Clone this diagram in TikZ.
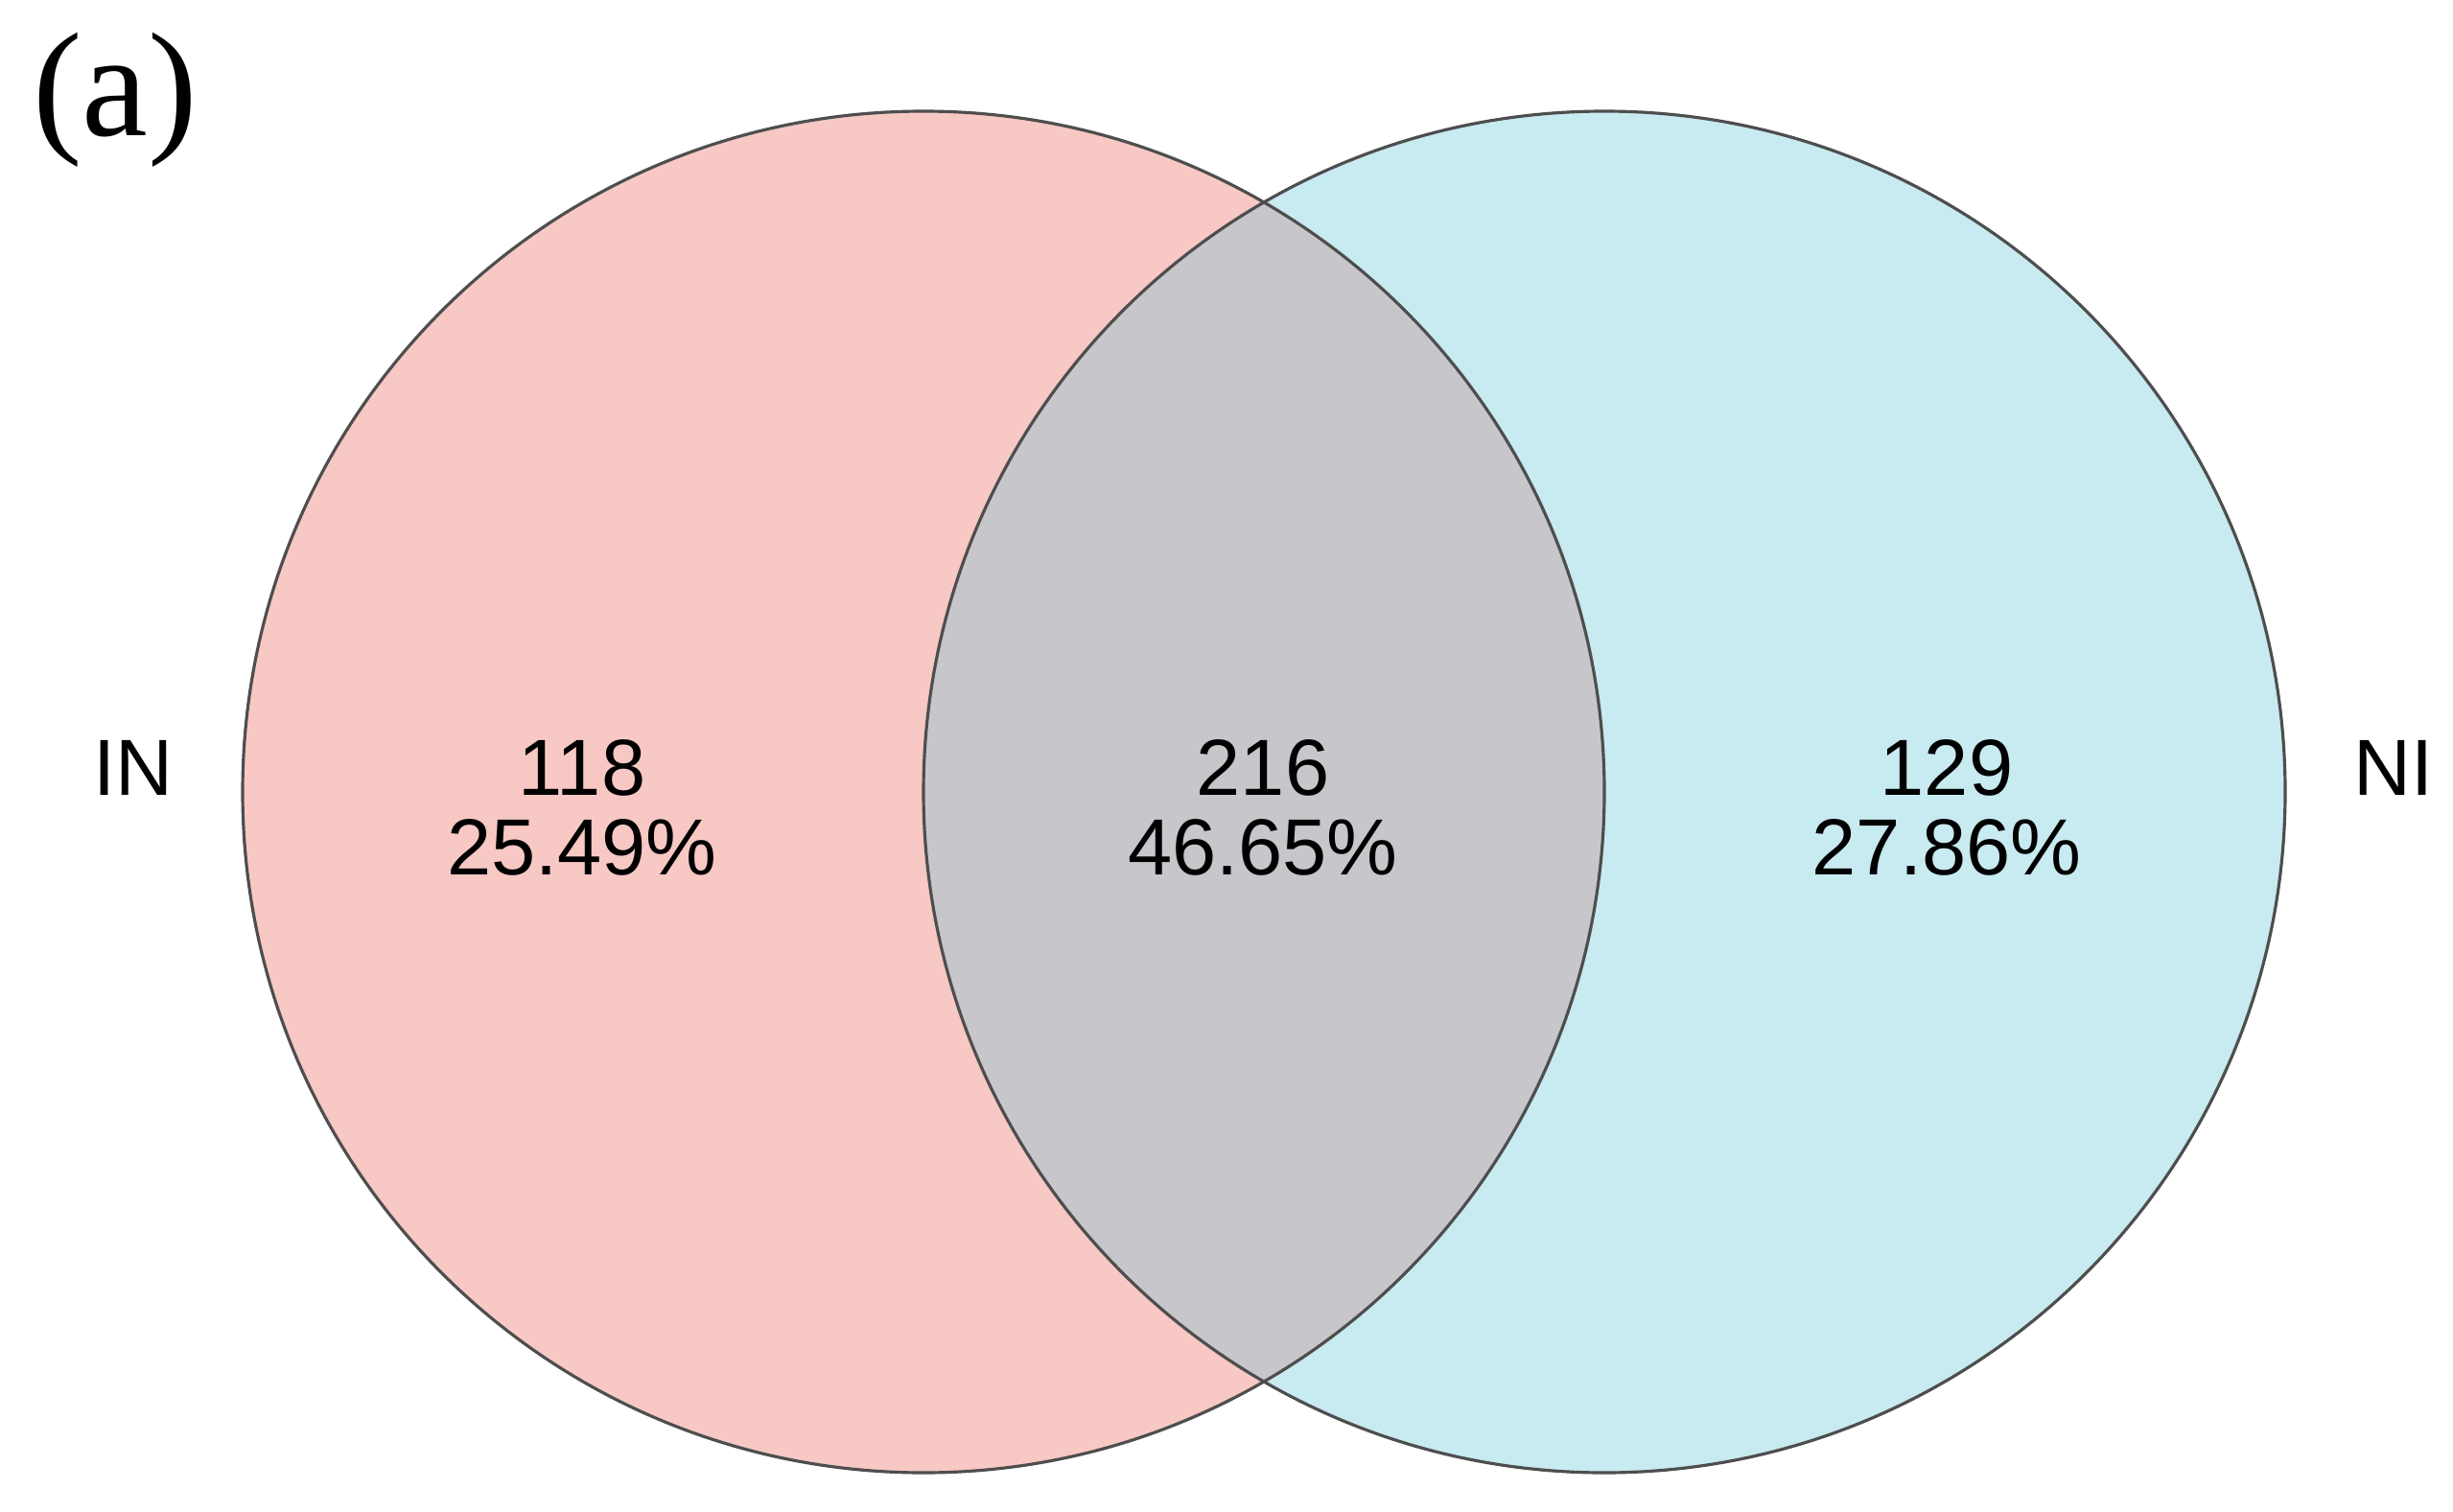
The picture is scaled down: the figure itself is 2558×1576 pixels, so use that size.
\documentclass[tikz,border=0pt]{standalone}
\usepackage{fontspec}
\setmainfont{Liberation Sans}
\newfontfamily\seriffont{Liberation Serif}
\definecolor{setpink}{HTML}{F7C8C4}
\definecolor{setblue}{HTML}{C8EAF1}
\definecolor{setgray}{HTML}{C6C6CB}
\definecolor{edgegray}{HTML}{4E4E4E}
\begin{document}
\begin{tikzpicture}[x=0.01cm,y=-0.01cm,
  lbl/.style={anchor=base,inner sep=0pt,font=\fontsize{23.6pt}{23.6pt}\selectfont},
  outline/.style={draw=edgegray,line width=0.9pt}]
\useasboundingbox (0,0) rectangle (2558,1576);
\fill[white] (0,0) rectangle (2558,1576);
% sets
\coordinate (cA) at (963,826);
\coordinate (cB) at (1673,826);
\fill[setpink] (cA) circle[radius=710];
\fill[setblue] (cB) circle[radius=710];
\begin{scope}
  \clip (cA) circle[radius=710];
  \fill[setgray] (cB) circle[radius=710];
\end{scope}
\draw[outline] (cA) circle[radius=710];
\draw[outline] (cB) circle[radius=710];
% labels
\node[lbl] (nameIN) at (139,829) {IN};
\node[lbl] (nameNI) at (2496,829) {NI};
\node[lbl] (cntA) at (607,829) {118};
\node[lbl] (pctA) at (607,912) {25.49\%};
\node[lbl] (cntAB) at (1317,829) {216};
\node[lbl] (pctAB) at (1317,912) {46.65\%};
\node[lbl] (cntB) at (2030,829) {129};
\node[lbl] (pctB) at (2030,912) {27.86\%};
\node[anchor=base,inner sep=0pt,font=\seriffont\fontsize{44pt}{44pt}\selectfont] (panel) at (120,142) {(a)};
\end{tikzpicture}
\end{document}
